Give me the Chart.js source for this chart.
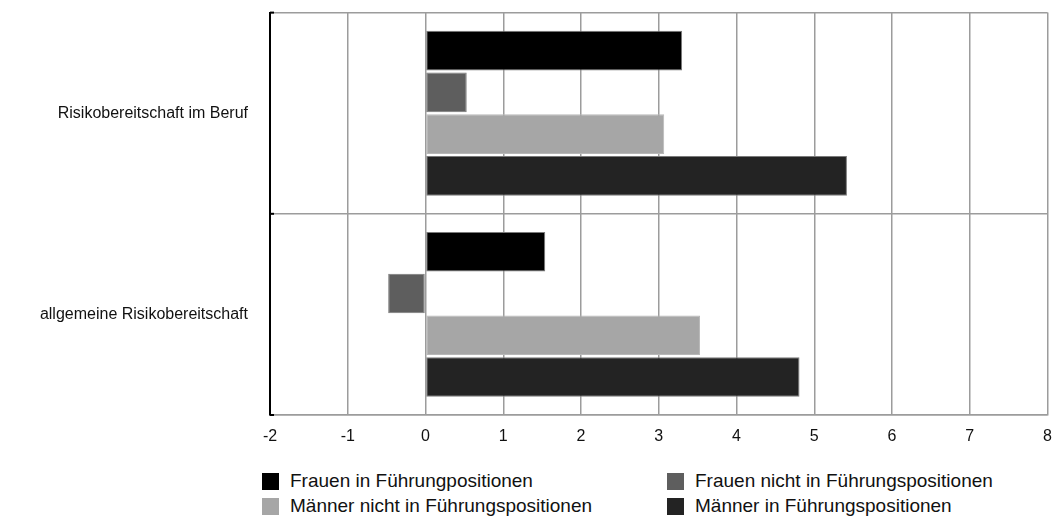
<!DOCTYPE html>
<html lang="de">
  <head>
    <meta charset="UTF-8" />
    <title>Risikobereitschaft</title>
    <style>
      body {
        margin: 0;
        background: #ffffff;
        font-family: "Liberation Sans", Arial, sans-serif;
        overflow: hidden;
      }
      #wrap {
        position: relative;
        width: 1052px;
        height: 519px;
        overflow: hidden;
      }
      #box {
        position: absolute;
        left: 0;
        top: -19px;
        width: 1064px;
        height: 479px;
      }
      #legend {
        position: absolute;
        left: 262px;
        top: 470px;
        display: grid;
        grid-template-columns: 405px 380px;
        row-gap: 3px;
        font-size: 19px;
        color: #111;
      }
      .item {
        display: flex;
        align-items: center;
        height: 22px;
      }
      .swatch {
        width: 17px;
        height: 17px;
        margin-right: 11px;
      }
    </style>
    <script src="https://cdn.jsdelivr.net/npm/chart.js"></script>
  </head>
  <body>
    <div id="wrap">
      <div id="box"><canvas id="chart"></canvas></div>
      <div id="legend"></div>
    </div>
    <script>
      const categories = ["Risikobereitschaft im Beruf", "allgemeine Risikobereitschaft"];
      const seriesNames = [
        "Frauen in Führungpositionen",
        "Frauen nicht in Führungspositionen",
        "Männer nicht in Führungspositionen",
        "Männer in Führungspositionen"
      ];
      const frauenIn = [3.3, 1.54];
      const frauenNicht = [0.53, -0.48];
      const maennerNicht = [3.07, 3.53];
      const maennerIn = [5.42, 4.81];
      const colors = ["#000000", "#5e5e5e", "#a6a6a6", "#232323"];
      const xMin = -2, xMax = 8;

      const values = [frauenIn, frauenNicht, maennerNicht, maennerIn];

      // small black marks on the left axis at the category borders
      const axisMarks = {
        id: "axisMarks",
        afterDraw(chart) {
          const y = chart.scales.y;
          const area = chart.chartArea;
          const ys = [area.top, area.bottom];
          for (let i = 0; i < categories.length - 1; i++) {
            ys.push((y.getPixelForTick(i) + y.getPixelForTick(i + 1)) / 2);
          }
          const ctx = chart.ctx;
          ctx.save();
          ctx.strokeStyle = "#000";
          ctx.lineWidth = 2;
          ys.forEach(p => {
            ctx.beginPath();
            ctx.moveTo(area.left, p);
            ctx.lineTo(area.left + 4, p);
            ctx.stroke();
          });
          ctx.restore();
        }
      };

      new Chart(document.getElementById("chart"), {
        type: "bar",
        data: {
          labels: categories,
          datasets: seriesNames.map((name, i) => ({
            label: name,
            data: values[i],
            backgroundColor: colors[i],
            borderColor: i === 2 ? "#b8b8b8" : "#7a7a7a",
            borderWidth: 1,
            borderSkipped: false,
            categoryPercentage: 0.83,
            barPercentage: 0.95
          }))
        },
        options: {
          indexAxis: "y",
          responsive: true,
          maintainAspectRatio: false,
          animation: false,
          layout: { padding: { top: 11, right: 5, left: 0, bottom: 0 } },
          plugins: {
            legend: { display: false },
            tooltip: { enabled: false }
          },
          scales: {
            x: {
              min: xMin,
              max: xMax,
              ticks: {
                stepSize: 1,
                color: "#111",
                padding: 12,
                font: { family: "Liberation Sans", size: 16 }
              },
              grid: { color: "#9c9c9c", lineWidth: 1.5, drawTicks: false },
              border: { color: "#9c9c9c", width: 1.5 },
              afterFit(scale) { scale.height = 45; }
            },
            y: {
              ticks: {
                color: "#111",
                padding: 22,
                font: { family: "Liberation Sans", size: 16 }
              },
              grid: { color: "#9c9c9c", lineWidth: 1.5, drawTicks: false },
              border: { color: "#000", width: 2 },
              afterFit(scale) { scale.width = 270; }
            }
          }
        },
        plugins: [axisMarks]
      });

      const legend = document.getElementById("legend");
      seriesNames.forEach((name, i) => {
        const item = document.createElement("div");
        item.className = "item";
        item.innerHTML = `<span class="swatch" style="background:${colors[i]}"></span>${name}`;
        legend.appendChild(item);
      });
    </script>
  </body>
</html>
